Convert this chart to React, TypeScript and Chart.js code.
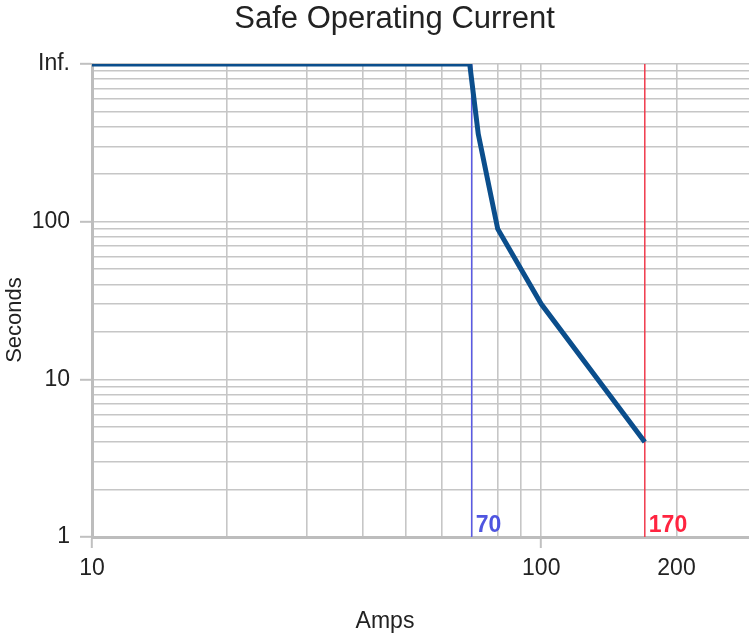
import React, { useEffect, useRef } from "react";
import { Chart, registerables } from "chart.js";

Chart.register(...registerables);

// Safe operating curve (Amps -> Seconds)
const curveAmps = [10, 69.3, 72.4, 80, 100, 170];
const curveSeconds = [1000, 1000, 360, 90, 30, 4];

// Marker lines
const markerAmps = [70, 170];
const markerLabels = ["70", "170"];
const markerColors = ["#5a5ae6", "#f03a4c"];
const markerTextColors = ["#4f55e0", "#ff2440"];

// Axis ticks
const xTickValues = [10, 20, 30, 40, 50, 60, 70, 80, 90, 100, 200];
const xTickLabels: Record<number, string> = { 10: "10", 100: "100", 200: "200" };
const xMajor = [10, 100];
const yTickValues = [
  1, 2, 3, 4, 5, 6, 7, 8, 9, 10, 20, 30, 40, 50, 60, 70, 80, 90, 100, 200, 300,
  400, 500, 600, 700, 800, 900, 1000,
];
const yTickLabels: Record<number, string> = { 1: "1", 10: "10", 100: "100", 1000: "Inf." };
const yMajor = [1, 10, 100, 1000];

const titleText = "Safe Operating Current";
const xTitleText = "Amps";
const yTitleText = "Seconds";

const FONT = "'Liberation Sans', Arial, sans-serif";

export default function App() {
  const ref = useRef<HTMLCanvasElement>(null);

  useEffect(() => {
    document.body.style.margin = "0";
    if (!ref.current) return;

    const textPlugin = {
      id: "texts",
      afterDatasetsDraw(chart: any) {
        const { ctx, chartArea, scales } = chart;
        ctx.save();
        // marker labels
        ctx.font = `bold 23px ${FONT}`;
        ctx.textAlign = "left";
        ctx.textBaseline = "alphabetic";
        markerAmps.forEach((a, i) => {
          const x = scales.x.getPixelForValue(a);
          ctx.fillStyle = markerTextColors[i];
          ctx.fillText(markerLabels[i], x + 4, chartArea.bottom - 5);
        });
        // title
        ctx.fillStyle = "#222";
        ctx.textAlign = "center";
        ctx.textBaseline = "middle";
        ctx.font = `31px ${FONT}`;
        ctx.fillText(titleText, 394.5, 19);
        // x title
        ctx.font = `23px ${FONT}`;
        ctx.fillText(xTitleText, 385, 622);
        // y title
        ctx.translate(15, 320);
        ctx.rotate(-Math.PI / 2);
        ctx.font = `22px ${FONT}`;
        ctx.fillText(yTitleText, 0, 0);
        ctx.restore();
      },
    };

    const datasets: any[] = [
      {
        label: "Safe",
        data: curveAmps.map((a, i) => ({ x: a, y: curveSeconds[i] })),
        borderColor: "#0b4e8c",
        borderWidth: 5,
        pointRadius: 0,
        tension: 0,
        borderJoinStyle: "miter",
        order: 0,
      },
      ...markerAmps.map((a, i) => ({
        label: markerLabels[i],
        data: [
          { x: a, y: 1 },
          { x: a, y: 1000 },
        ],
        borderColor: markerColors[i],
        borderWidth: 1.5,
        pointRadius: 0,
        order: 1 + i,
      })),
    ];

    const chart = new Chart(ref.current, {
      type: "line",
      data: { datasets },
      plugins: [textPlugin],
      options: {
        animation: false,
        responsive: false,
        devicePixelRatio: 1,
        layout: { padding: { top: 64, left: 0, right: 0, bottom: 0 } },
        plugins: {
          legend: { display: false },
          tooltip: { enabled: false },
          title: { display: false },
        },
        scales: {
          x: {
            type: "logarithmic",
            min: 10,
            max: 290,
            afterBuildTicks: (s: any) => {
              s.ticks = xTickValues.map((v) => ({ value: v }));
            },
            afterFit: (s: any) => {
              s.height = 101;
            },
            ticks: {
              autoSkip: false,
              maxRotation: 0,
              padding: 7,
              color: "#222",
              font: { family: FONT, size: 23 },
              callback: (v: any) => xTickLabels[v] ?? "",
            },
            grid: {
              color: "#c6c6c6",
              lineWidth: 1.6,
              tickLength: 11,
              tickColor: (c: any) =>
                xMajor.includes(c.tick?.value) ? "#c0c0c0" : "rgba(0,0,0,0)",
              tickWidth: 2,
            },
            border: { color: "#bdbdbd", width: 3 },
            title: { display: false },
          },
          y: {
            type: "logarithmic",
            min: 1,
            max: 1000,
            afterBuildTicks: (s: any) => {
              s.ticks = yTickValues.map((v) => ({ value: v }));
            },
            afterFit: (s: any) => {
              s.width = 92;
            },
            ticks: {
              autoSkip: false,
              padding: 10,
              color: "#222",
              font: { family: FONT, size: 23 },
              callback: (v: any) => yTickLabels[v] ?? "",
            },
            grid: {
              color: "#c6c6c6",
              lineWidth: 1.6,
              tickLength: 12,
              tickColor: (c: any) =>
                yMajor.includes(c.tick?.value) ? "#c0c0c0" : "rgba(0,0,0,0)",
              tickWidth: 2,
            },
            border: { color: "#bdbdbd", width: 3 },
            title: { display: false },
          },
        },
      },
    });

    return () => chart.destroy();
  }, []);

  return (
    <div style={{ width: 749, height: 638 }}>
      <canvas ref={ref} width={749} height={638} />
    </div>
  );
}
